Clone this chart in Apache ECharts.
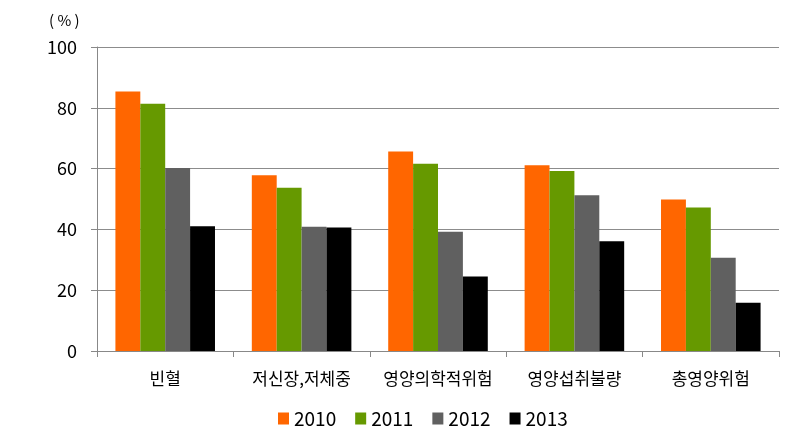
<!DOCTYPE html>
<html><head><meta charset="utf-8">
<script src="https://cdn.jsdelivr.net/npm/echarts@6/dist/echarts.min.js"></script>
<style>html,body{margin:0;padding:0;background:#fff}#c{width:809px;height:440px}</style>
</head><body><div id="c"></div>
<script>
const categories = ['빈혈', '저신장,저체중', '영양의학적위험', '영양섭취불량', '총영양위험'];
const seriesNames = ['2010', '2011', '2012', '2013'];
const v2010 = [85.4, 57.8, 65.6, 61.1, 49.8];
const v2011 = [81.3, 53.7, 61.6, 59.2, 47.2];
const v2012 = [60.2, 40.9, 39.2, 51.2, 30.7];
const v2013 = [41.0, 40.6, 24.5, 36.1, 15.9];
const colors = ['#ff6600', '#669900', '#606060', '#000000'];
const yTicks = [0, 20, 40, 60, 80, 100];

const font = '"Noto Sans CJK KR", "Malgun Gothic", sans-serif';
const chart = echarts.init(document.getElementById('c'));
const data = [v2010, v2011, v2012, v2013];
chart.setOption({
  animation: false,
  textStyle: { fontFamily: font },
  grid: { left: 97, right: 30, top: 47, bottom: 89, containLabel: false },
  legend: {
    top: 404, left: 273, itemWidth: 11, itemHeight: 12, itemGap: 19,
    textStyle: { fontSize: 19, color: '#000', fontFamily: font },
    data: seriesNames.map((n) => ({ name: n, icon: 'rect' }))
  },
  graphic: [{ type: 'text', left: 49, top: 13, style: { text: '( % )', fontSize: 15, fill: '#000', fontFamily: font } }],
  xAxis: {
    type: 'category', data: categories,
    axisLine: { lineStyle: { color: '#888', width: 1 } },
    axisTick: { show: true, interval: 0, alignWithLabel: false, length: 6, lineStyle: { color: '#888' } },
    axisLabel: { interval: 0, fontSize: 17, color: '#000', margin: 19, fontFamily: font }
  },
  yAxis: {
    type: 'value', min: yTicks[0], max: yTicks[yTicks.length - 1], interval: 20,
    axisLine: { show: true, lineStyle: { color: '#888' } },
    axisTick: { show: true, length: 6, lineStyle: { color: '#888' } },
    axisLabel: { fontSize: 18, color: '#000', margin: 20, fontFamily: font },
    splitLine: { lineStyle: { color: '#8c8c8c', width: 1 } }
  },
  series: seriesNames.map((n, i) => ({
    name: n, type: 'bar', data: data[i], barGap: '0%', barCategoryGap: '27%',
    itemStyle: { color: colors[i] }
  }))
});
</script></body></html>
